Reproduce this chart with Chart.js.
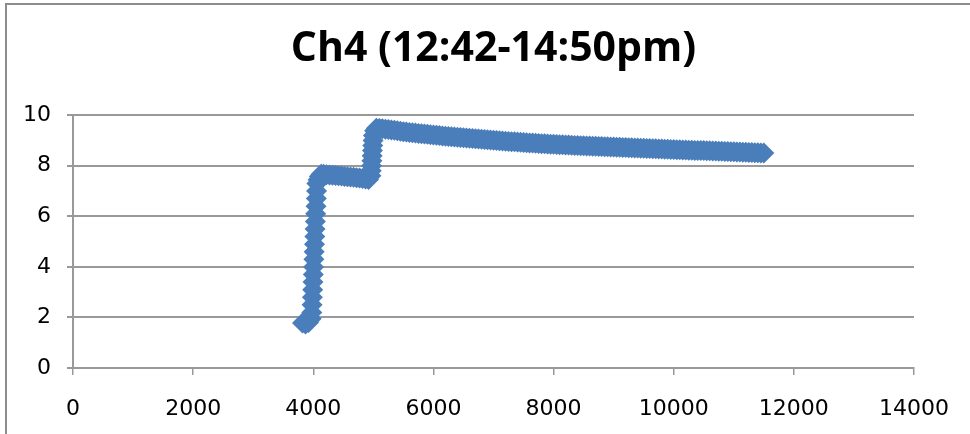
<!DOCTYPE html>
<html>
<head>
<meta charset="utf-8">
<script src="https://cdn.jsdelivr.net/npm/chart.js@4/dist/chart.umd.min.js"></script>
<style>
html,body{margin:0;padding:0;background:#fff;}
#wrap{position:relative;width:970px;height:434px;overflow:hidden;}
#frame{position:absolute;left:5px;top:3px;width:980px;height:450px;border-left:2px solid #8d8d8d;border-top:2px solid #8d8d8d;pointer-events:none;}
canvas{position:absolute;left:0;top:0;}
</style>
</head>
<body>
<div id="wrap">
<canvas id="chartCanvas" width="970" height="434"></canvas>
<div id="frame"></div>
</div>
<script>

// readings of the Ch4 series (x, value)
const xValues = [
3820,3870,3920,3965,3975,3980,3985,3990,3995,4000,4005,4010,4015,4020,4025,4030,4035,4040,4045,4050,4055,4060,
4080,4100,4130,4170,4220,4270,4320,4370,4420,4470,4520,4570,4620,4670,4720,4770,4820,4870,4920,
4960,4965,4970,4975,4980,4985,4990,4995,5000,5020,5050,
5100,5150,5200,5250,5300,5350,5400,5450,5500,5550,5600,5650,5700,5750,5800,5850,5900,5950,6000,6050,
6100,6150,6200,6250,6300,6350,6400,6450,6500,6550,6600,6650,6700,6750,6800,6850,6900,6950,7000,7050,
7100,7150,7200,7250,7300,7350,7400,7450,7500,7550,7600,7650,7700,7750,7800,7850,7900,7950,8000,8050,
8100,8150,8200,8250,8300,8350,8400,8450,8500,8550,8600,8650,8700,8750,8800,8850,8900,8950,9000,9050,
9100,9150,9200,9250,9300,9350,9400,9450,9500,9550,9600,9650,9700,9750,9800,9850,9900,9950,10000,10050,
10100,10150,10200,10250,10300,10350,10400,10450,10500,10550,10600,10650,10700,10750,10800,10850,10900,10950,11000,11050,
11100,11150,11200,11250,11300,11350,11400,11450,11500
];

const yValues = [
1.78,1.74,1.8,1.95,2.2,2.5,2.8,3.1,3.4,3.7,4.0,4.3,4.6,4.9,5.2,5.5,5.8,6.1,6.4,6.7,7.0,7.3,
7.45,7.58,7.66,7.66,7.64,7.63,7.62,7.61,7.6,7.59,7.58,7.57,7.56,7.55,7.53,7.52,7.5,7.48,7.46,
7.6,7.8,8.0,8.2,8.4,8.6,8.8,9.0,9.2,9.38,9.48,
9.47,9.46,9.44,9.43,9.41,9.40,9.38,9.37,9.35,9.34,9.32,9.31,9.30,9.28,9.27,9.26,9.25,9.23,9.22,9.21,
9.20,9.18,9.17,9.16,9.15,9.14,9.13,9.12,9.11,9.10,9.09,9.08,9.07,9.06,9.05,9.04,9.03,9.02,9.01,9.00,
8.99,8.98,8.97,8.96,8.95,8.95,8.94,8.93,8.92,8.91,8.90,8.90,8.89,8.88,8.87,8.87,8.86,8.85,8.85,8.84,
8.83,8.83,8.82,8.82,8.81,8.80,8.80,8.79,8.79,8.78,8.78,8.77,8.77,8.76,8.76,8.75,8.75,8.74,8.74,8.73,
8.73,8.72,8.72,8.71,8.71,8.70,8.70,8.69,8.69,8.68,8.68,8.67,8.67,8.66,8.66,8.65,8.65,8.64,8.64,8.63,
8.63,8.62,8.62,8.61,8.61,8.60,8.60,8.60,8.60,8.59,8.59,8.58,8.58,8.57,8.57,8.56,8.56,8.55,8.55,8.54,
8.54,8.53,8.53,8.52,8.52,8.51,8.51,8.50,8.50
];

const xTicks = [0,2000,4000,6000,8000,10000,12000,14000];
const yTicks = [0,2,4,6,8,10];

const titleText = "Ch4 (12:42-14:50pm)";

const points = xValues.map((x,i) => ({x:x, y:yValues[i]}));

const ctx = document.getElementById("chartCanvas");

new Chart(ctx,{

type:"scatter",

data:{
datasets:[{
label:"Ch4",
data:points,
pointStyle:"rectRot",
pointRadius:10.5,
pointHoverRadius:10.5,
backgroundColor:"#4a7ebb",
borderColor:"#4a7ebb",
borderWidth:0,
showLine:false
}]
},

options:{
responsive:false,
animation:false,
layout:{
padding:{left:0,right:54,top:0,bottom:0}
},
plugins:{
legend:{display:false},
tooltip:{enabled:false},
title:{
display:true,
fullSize:false, // centre over the plot area, like the original
text:titleText,
color:"#000",
font:{family:"'Open Sans', Lato, sans-serif",size:41,weight:"bold"},
padding:{top:25,bottom:41}
}
},
scales:{
x:{
type:"linear",
min:0,
max:14000,
afterBuildTicks:(scale)=>{ scale.ticks = xTicks.map(v=>({value:v})); },
afterFit:(scale)=>{ scale.height = 66; },
ticks:{
color:"#000",
font:{family:"'DejaVu Sans', sans-serif",size:22},
padding:21,
maxRotation:0,
autoSkip:false,
callback:(v)=>String(v)
},
grid:{
drawOnChartArea:false,
drawTicks:true,
tickLength:7,
color:"#999",
lineWidth:1.5
},
border:{display:true,color:"#999",width:2}
},
y:{
min:0,
max:10,
afterBuildTicks:(scale)=>{ scale.ticks = yTicks.map(v=>({value:v})); },
afterFit:(scale)=>{ scale.width = 73; },
ticks:{
color:"#000",
font:{family:"'DejaVu Sans', sans-serif",size:22},
padding:16,
callback:(v)=>String(v)
},
grid:{
color:"#999",
lineWidth:2,
drawTicks:true,
tickLength:6
},
border:{display:true,color:"#999",width:2}
}
}
}

});

</script>
</body>
</html>
